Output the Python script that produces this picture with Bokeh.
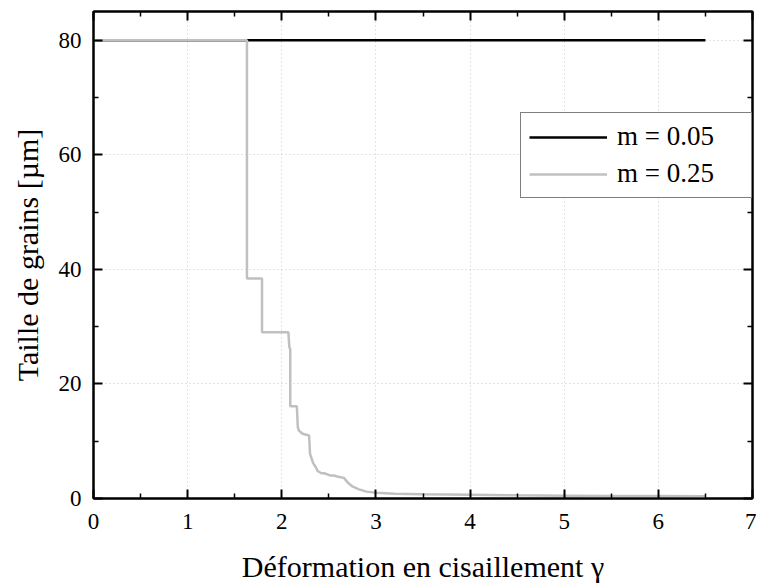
from bokeh.plotting import figure
from bokeh.models import LinearAxis, Range1d, Legend, LegendItem, FixedTicker
from bokeh.embed import file_html
from bokeh.resources import INLINE

# Data
gamma_005 = [0.0, 6.5]
size_005 = [80.0, 80.0]

gamma_025 = [0.0, 1.63, 1.63, 1.79, 1.79, 2.07, 2.08, 2.09, 2.09, 2.16, 2.17, 2.18,
             2.22, 2.29, 2.30, 2.31, 2.33, 2.34, 2.37, 2.38, 2.42, 2.45, 2.52, 2.55,
             2.60, 2.66, 2.70, 2.75, 2.82, 2.90, 3.0, 3.2, 3.5, 4.0, 4.5, 5.0, 5.5,
             6.0, 6.5]
size_025 = [80.0, 80.0, 38.4, 38.4, 29.0, 29.0, 26.5, 26.0, 16.1, 16.1, 12.5, 11.9,
            11.3, 11.0, 7.8, 7.3, 6.3, 6.0, 5.2, 4.8, 4.4, 4.4, 4.0, 4.0,
            3.8, 3.6, 2.8, 2.1, 1.6, 1.2, 1.0, 0.85, 0.75, 0.65, 0.55, 0.5, 0.45,
            0.42, 0.4]

x_major = [0, 1, 2, 3, 4, 5, 6, 7]
x_minor = [0.5, 1.5, 2.5, 3.5, 4.5, 5.5, 6.5]
y_major = [0, 20, 40, 60, 80]
y_minor = [10, 30, 50, 70]

labels = ["m = 0.05", "m = 0.25"]
colors = ["#000000", "#c0c0c0"]

FONT = "'Liberation Serif'"

p = figure(frame_width=659, frame_height=487,
           min_border_left=93, min_border_right=4, min_border_top=11, min_border_bottom=70,
           x_range=Range1d(0, 7), y_range=Range1d(0, 85),
           output_backend="svg", toolbar_location=None)
p.background_fill_color = "white"
p.border_fill_color = "white"
p.outline_line_color = "black"
p.outline_line_width = 2

l1 = p.line(gamma_005, size_005, line_color=colors[0], line_width=2.5)
l2 = p.line(gamma_025, size_025, line_color=colors[1], line_width=2.5)

xt = FixedTicker(ticks=x_major, minor_ticks=x_minor)
yt = FixedTicker(ticks=y_major, minor_ticks=y_minor)

def style_axis(ax, ticker, show_labels=True):
    ax.ticker = ticker
    ax.axis_line_color = "black"
    ax.axis_line_width = 2
    ax.major_tick_in = 9
    ax.major_tick_out = 0
    ax.minor_tick_in = 5
    ax.minor_tick_out = 0
    ax.major_tick_line_width = 2
    ax.minor_tick_line_width = 1.5
    ax.major_tick_line_color = "black"
    ax.minor_tick_line_color = "black"
    ax.major_label_text_font = FONT
    ax.major_label_text_font_size = "23px"
    ax.major_label_text_color = "black"
    ax.axis_label_text_font = FONT
    ax.axis_label_text_font_size = "30px"
    ax.axis_label_text_font_style = "normal"
    ax.axis_label_text_color = "black"
    if not show_labels:
        ax.major_label_standoff = 0
        ax.major_label_overrides = {t: "" for t in ticker.ticks}

bx = p.xaxis[0]
by = p.yaxis[0]
style_axis(bx, xt)
style_axis(by, yt)
bx.axis_label = "Déformation en cisaillement γ"
by.axis_label = "Taille de grains [µm]"
bx.major_label_standoff = 15
bx.axis_label_standoff = 18
by.major_label_standoff = 12
by.axis_label_standoff = 12

top = LinearAxis()
style_axis(top, xt, show_labels=False)
p.add_layout(top, "above")
right = LinearAxis()
style_axis(right, yt, show_labels=False)
p.add_layout(right, "right")

p.xgrid.ticker = FixedTicker(ticks=[1, 2, 3, 4, 5, 6])
p.ygrid.ticker = FixedTicker(ticks=[20, 40, 60, 80])
for g in (p.xgrid[0], p.ygrid[0]):
    g.grid_line_color = "#c8c8c8"
    g.grid_line_width = 1
    g.grid_line_dash = "1 3"

legend = Legend(items=[LegendItem(label=labels[0], renderers=[l1]),
                       LegendItem(label=labels[1], renderers=[l2])],
                location=(427, 300))
legend.label_text_font = FONT
legend.label_text_font_size = "27px"
legend.label_text_color = "black"
legend.glyph_width = 78
legend.glyph_height = 24
legend.label_standoff = 10
legend.label_height = 24
legend.label_width = 126
legend.spacing = 6
legend.padding = 8
legend.margin = 0
legend.border_line_color = "black"
legend.border_line_width = 1.5
legend.background_fill_alpha = 1
p.add_layout(legend, "center")

open("out.html", "w").write(file_html(p, INLINE))
